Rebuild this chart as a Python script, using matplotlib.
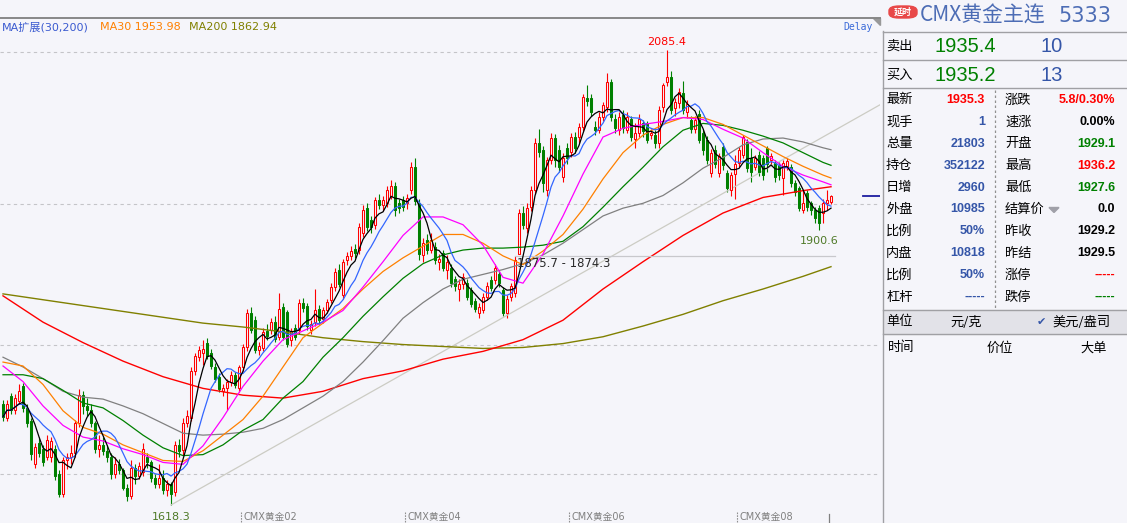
import matplotlib
matplotlib.use("Agg")
import matplotlib.pyplot as plt
from matplotlib.lines import Line2D
from matplotlib.patches import Rectangle, FancyBboxPatch, Polygon
import numpy as np
import pandas as pd

W, H = 1127, 523
BG = "#f5f5fa"
CJK = ["Noto Sans CJK SC", "DejaVu Sans"]
LATIN = ["DejaVu Sans", "Noto Sans CJK SC"]

# daily candles, CMX gold main contract
opens = [1722, 1708, 1730, 1716, 1725, 1740, 1718, 1705, 1660, 1682,
         1676, 1668, 1668, 1676, 1650, 1630, 1664, 1668, 1672, 1702,
         1731, 1720, 1716, 1702, 1676, 1680, 1674, 1668, 1650, 1660,
         1654, 1636, 1628, 1656, 1648, 1652, 1668, 1662, 1646, 1640,
         1646, 1634, 1640, 1632, 1680, 1675, 1702, 1708, 1756, 1770,
         1774, 1785, 1774, 1760, 1750, 1735, 1738, 1745, 1752, 1738,
         1760, 1780, 1815, 1808, 1777, 1779, 1797, 1798, 1806, 1791,
         1822, 1816, 1788, 1800, 1798, 1826, 1823, 1798, 1806, 1820,
         1809, 1818, 1829, 1842, 1860, 1834, 1870, 1874, 1881, 1880,
         1897, 1923, 1911, 1906, 1931, 1926, 1928, 1936, 1946, 1928,
         1931, 1928, 1942, 1965, 1928, 1875, 1890, 1880, 1883, 1868,
         1877, 1860, 1862, 1850, 1840, 1845, 1846, 1839, 1828, 1815,
         1818, 1832, 1849, 1849, 1855, 1839, 1815, 1832, 1836, 1876,
         1918, 1903, 1924, 1942, 1990, 1983, 1942, 1972, 1995, 1983,
         1955, 1985, 1981, 1996, 1996, 2006, 2036, 2036, 2006, 2003,
         2017, 2027, 2053, 2015, 2003, 2019, 2003, 2015, 1994, 2000,
         2010, 2010, 1998, 1998, 1990, 2027, 2053, 2058, 2026, 2031,
         2041, 2022, 2014, 2004, 2020, 2000, 1993, 1959, 1983, 1959,
         1986, 1959, 1942, 1958, 1969, 1978, 1991, 1975, 1965, 1978,
         1975, 1985, 1972, 1969, 1967, 1954, 1965, 1965, 1949, 1944,
         1921, 1939, 1928, 1921, 1923, 1918, 1928, 1929.1]
highs = [1726, 1726, 1733, 1732, 1742, 1744, 1722, 1708, 1682, 1688,
         1680, 1690, 1688, 1680, 1654, 1668, 1672, 1680, 1706, 1737,
         1735, 1728, 1722, 1704, 1690, 1688, 1680, 1672, 1668, 1665,
         1656, 1640, 1664, 1660, 1662, 1682, 1672, 1664, 1650, 1660,
         1654, 1644, 1642, 1684, 1686, 1708, 1716, 1760, 1774, 1782,
         1788, 1790, 1778, 1764, 1754, 1742, 1748, 1756, 1755, 1762,
         1784, 1820, 1822, 1812, 1786, 1800, 1804, 1810, 1812, 1836,
         1826, 1818, 1800, 1804, 1830, 1831, 1826, 1808, 1840, 1824,
         1822, 1830, 1846, 1862, 1866, 1871, 1878, 1884, 1886, 1908,
         1926, 1928, 1915, 1934, 1938, 1936, 1946, 1952, 1950, 1932,
         1936, 1938, 1970, 1975, 1932, 1892, 1896, 1898, 1888, 1876,
         1880, 1875, 1866, 1853, 1850, 1856, 1850, 1842, 1831, 1826,
         1836, 1847, 1853, 1866, 1858, 1842, 1834, 1846, 1874.3, 1922,
         1925, 1928, 1946, 1995, 2004, 1987, 1976, 2000, 1999, 1988,
         1980, 1990, 2000, 2001, 2010, 2040, 2049, 2040, 2012, 2022,
         2032, 2062, 2056, 2020, 2022, 2024, 2022, 2018, 2010, 2020,
         2014, 2012, 2004, 2003, 2028, 2052, 2085.4, 2064, 2036, 2046,
         2054, 2034, 2018, 2018, 2024, 2004, 1997, 1984, 1988, 1980,
         1990, 1962, 1960, 1978, 1986, 1998, 1994, 1985, 1978, 1982,
         1978, 1987, 1980, 1972, 1970, 1972, 1975, 1968, 1952, 1946,
         1942, 1942, 1930, 1924, 1926, 1932, 1942, 1936.2]
lows = [1705, 1704, 1712, 1712, 1722, 1714, 1698, 1664, 1656, 1668,
        1658, 1664, 1662, 1644, 1626, 1626, 1655, 1660, 1668, 1698,
        1712, 1710, 1698, 1672, 1668, 1670, 1662, 1645, 1646, 1650,
        1634, 1622, 1624, 1640, 1645, 1648, 1656, 1642, 1636, 1636,
        1630, 1628, 1618.3, 1628, 1668, 1670, 1698, 1704, 1752, 1766,
        1762, 1768, 1758, 1745, 1734, 1730, 1716, 1740, 1738, 1734,
        1756, 1776, 1795, 1774, 1772, 1776, 1788, 1794, 1786, 1788,
        1788, 1780, 1782, 1788, 1794, 1816, 1798, 1794, 1802, 1804,
        1805, 1815, 1826, 1838, 1842, 1830, 1865, 1870, 1872, 1876,
        1893, 1900, 1898, 1902, 1922, 1920, 1924, 1932, 1915, 1918,
        1920, 1922, 1938, 1926, 1870, 1868, 1876, 1877, 1866, 1860,
        1858, 1850, 1842, 1838, 1828, 1840, 1829, 1822, 1816, 1810,
        1815, 1829, 1838, 1845, 1842, 1812, 1810, 1828, 1832, 1875.7,
        1902, 1898, 1920, 1938, 1976, 1940, 1936, 1968, 1965, 1960,
        1950, 1968, 1976, 1980, 1990, 2002, 2028, 2018, 1998, 2000,
        2012, 2022, 2012, 2000, 1998, 2000, 2000, 1992, 1985, 1996,
        1996, 1990, 1994, 1985, 1985, 2022, 2048, 2020, 2018, 2026,
        2020, 2016, 2000, 2000, 1990, 1978, 1968, 1955, 1964, 1955,
        1962, 1940, 1935, 1932, 1965, 1975, 1960, 1950, 1962, 1956,
        1952, 1960, 1968, 1950, 1952, 1937, 1962, 1945, 1936, 1920,
        1918, 1920, 1916, 1908, 1900.6, 1908, 1921, 1927.6]
closes = [1709, 1722, 1716, 1728, 1735, 1718, 1702, 1671, 1678, 1672,
          1662, 1685, 1684, 1648, 1630, 1664, 1668, 1672, 1702, 1731,
          1720, 1716, 1702, 1676, 1680, 1674, 1668, 1650, 1660, 1654,
          1636, 1628, 1656, 1648, 1658, 1676, 1662, 1646, 1640, 1646,
          1634, 1640, 1630, 1680, 1674, 1702, 1710, 1756, 1771, 1777,
          1778, 1771, 1761, 1748, 1737, 1738, 1745, 1752, 1741, 1760,
          1780, 1815, 1798, 1777, 1781, 1796, 1792, 1806, 1789, 1820,
          1791, 1784, 1797, 1791, 1826, 1821, 1802, 1804, 1818, 1808,
          1818, 1827, 1842, 1857, 1845, 1868, 1874, 1879, 1877, 1904,
          1921, 1904, 1904, 1931, 1926, 1931, 1942, 1946, 1921, 1923,
          1924, 1933, 1965, 1930, 1876, 1887, 1880, 1890, 1870, 1871,
          1862, 1868, 1846, 1843, 1845, 1852, 1832, 1825, 1820, 1822,
          1832, 1843, 1841, 1862, 1846, 1815, 1830, 1843, 1870, 1918,
          1906, 1923, 1942, 1990, 1981, 1949, 1972, 1995, 1972, 1965,
          1975, 1975, 1996, 1985, 2006, 2037, 2033, 2022, 2003, 2017,
          2029, 2053, 2017, 2005, 2017, 2005, 2017, 1996, 2000, 2015,
          2002, 1993, 2000, 1990, 2024, 2049, 2058, 2024, 2032, 2042,
          2024, 2030, 2004, 2014, 1993, 1983, 1972, 1980, 1968, 1977,
          1967, 1944, 1957, 1968, 1983, 1996, 1964, 1960, 1975, 1960,
          1957, 1968, 1977, 1955, 1957, 1969, 1971, 1949, 1940, 1923,
          1928, 1924, 1921, 1913, 1908, 1928, 1931, 1935.3]

# moving averages (every 5 sessions for the faster ones)
ma_idx_fast = [0, 5, 10, 15, 20, 25, 30, 35, 40, 45, 50, 55, 60, 65, 70,
               75, 80, 85, 90, 95, 100, 105, 110, 115, 120, 125, 130, 135,
               140, 145, 150, 155, 160, 165, 170, 175, 180, 185, 190, 195,
               200, 205, 207]
ma20 = [1761, 1745, 1720, 1700, 1688, 1684, 1676, 1670, 1662, 1660, 1679,
        1708, 1740, 1766, 1788, 1797, 1806, 1818, 1842, 1868, 1895, 1914,
        1914, 1906, 1885, 1852, 1846, 1876, 1915, 1958, 1996, 2005, 2009,
        2012, 2016, 2014, 2004, 1995, 1980, 1966, 1957, 1950, 1947]
ma30 = [1765, 1761, 1742, 1715, 1698, 1691, 1680, 1672, 1664, 1663, 1674,
        1690, 1706, 1730, 1760, 1790, 1805, 1820, 1840, 1858, 1872, 1884,
        1896, 1896, 1887, 1874, 1865, 1879, 1896, 1922, 1953, 1980, 1998,
        2009, 2016, 2016, 2009, 1998, 1987, 1976, 1966, 1957, 1953.98]
ma40 = [1752, 1752, 1748, 1736, 1723, 1718, 1705, 1690, 1677, 1669, 1670,
        1680, 1695, 1706, 1728, 1745, 1770, 1790, 1812, 1832, 1851, 1866,
        1875, 1880, 1882, 1882, 1883, 1885, 1889, 1904, 1924, 1945, 1965,
        1986, 2003, 2010, 2008, 2003, 1997, 1990, 1980, 1970, 1967]
ma60 = [1770, 1760, 1748, 1735, 1729, 1727, 1720, 1712, 1702, 1692, 1690,
        1691, 1693, 1697, 1706, 1718, 1730, 1745, 1765, 1787, 1810, 1826,
        1840, 1850, 1855, 1860, 1866, 1875, 1887, 1901, 1915, 1923, 1928,
        1936, 1949, 1964, 1975, 1988, 1994, 1995, 1991, 1985, 1983]

ma_idx_slow = [0, 10, 20, 30, 40, 50, 60, 70, 80, 90, 100,
               110, 120, 130, 140, 150, 160, 170, 180, 190, 200, 207]
ma120 = [1833, 1806, 1785, 1766, 1750, 1738, 1731, 1728, 1735, 1748, 1756,
         1768, 1776, 1788, 1808, 1840, 1868, 1895, 1918, 1934, 1941, 1945]
ma200 = [1835, 1829, 1823, 1817, 1811, 1805, 1801, 1796, 1790, 1786, 1783,
         1781, 1779, 1780, 1784, 1791, 1802, 1814, 1828, 1840, 1853, 1862.94]

month_labels = ["CMX黄金02", "CMX黄金04", "CMX黄金06", "CMX黄金08"]
month_idx = [60, 101, 142, 184]
grid_prices = [2083.3, 1927.3, 1782.6, 1650.1]

trend_idx = [42, 126]
trend_price = [1618.3, 1813.0]
gap_idx = 128
gap_hi, gap_lo = 1875.7, 1874.3
last_price = 1935.3

# quote panel
sell = ("1935.4", "10")
buy = ("1935.2", "13")
left_names = ["最新", "现手", "总量", "持仓", "日增", "外盘", "比例", "内盘", "比例", "杠杆"]
left_vals = ["1935.3", "1", "21803", "352122", "2960", "10985", "50%", "10818", "50%", "-----"]
left_cols = ["#ff0000"] + ["#3556a8"] * 9
right_names = ["涨跌", "速涨", "开盘", "最高", "最低", "结算价", "昨收", "昨结", "涨停", "跌停"]
right_vals = ["5.8/0.30%", "0.00%", "1929.1", "1936.2", "1927.6", "0.0", "1929.2", "1929.5", "-----", "-----"]
right_cols = ["#ff0000", "#000000", "#008000", "#ff0000", "#008000",
              "#000000", "#000000", "#000000", "#ff0000", "#008000"]

fig = plt.figure(figsize=(W / 100, H / 100), dpi=100, facecolor=BG)


def ftext(x, y, s, **kw):
    kw.setdefault("va", "center")
    fig.text(x / W, 1 - y / H, s, **kw)


def fline(x0, y0, x1, y1, **kw):
    fig.add_artist(Line2D([x0 / W, x1 / W], [1 - y0 / H, 1 - y1 / H], **kw))


ax = fig.add_axes([0, 0, 880 / W, 504 / H])
ax.set_xlim(-0.75, 219.25)
ax.set_ylim(1599.8, 2117.2)
ax.axis("off")

o = np.array(opens, dtype=float)
h = np.array(highs, dtype=float)
l = np.array(lows, dtype=float)
c = np.array(closes, dtype=float)
x = np.arange(len(c))
up = c >= o
edge = np.where(up, "#ff0000", "#008000")
face = np.where(up, BG, "#008000")
body_lo = np.minimum(o, c)
body_h = np.maximum(np.abs(c - o), 0.8)

for gp in grid_prices:
    ax.axhline(gp, color="#c4c4c8", lw=0.8, ls=(0, (3, 3)), zorder=1)

ax.vlines(x, l, h, colors=edge, lw=0.8, zorder=2)
ax.bar(x, body_h, bottom=body_lo, width=0.66, color=face, edgecolor=edge,
       linewidth=0.75, zorder=3)

# trend line through two lows, extended to the right edge
slope = (trend_price[1] - trend_price[0]) / (trend_idx[1] - trend_idx[0])
tx = np.array([trend_idx[0], 219.25])
ax.plot(tx, trend_price[0] + slope * (tx - trend_idx[0]), color="#ccccc4", lw=0.9, zorder=2)

# moving averages
ma5 = pd.Series(c).rolling(5, min_periods=1).mean()
ma10 = pd.Series(c).rolling(10, min_periods=1).mean()
ax.plot(ma_idx_slow, ma200, color="#808000", lw=1.0, zorder=4)
ax.plot(ma_idx_slow, ma120, color="#ff0000", lw=1.0, zorder=4)
ax.plot(ma_idx_fast, ma60, color="#808080", lw=0.9, zorder=4)
ax.plot(ma_idx_fast, ma40, color="#008000", lw=0.9, zorder=4)
ax.plot(ma_idx_fast, ma30, color="#ff8000", lw=0.9, zorder=4)
ax.plot(ma_idx_fast, ma20, color="#ff00ff", lw=0.9, zorder=4)
ax.plot(x, ma10, color="#3366ff", lw=0.9, zorder=5)
ax.plot(x, ma5, color="#000000", lw=0.9, zorder=5)

# gap marker
ax.plot([gap_idx, len(c)], [gap_lo, gap_lo], color="#c8c8cc", lw=0.9, zorder=4)
ax.annotate(f"{gap_hi} - {gap_lo}", (gap_idx + 0.5, gap_lo), xytext=(0, -8),
            textcoords="offset pixels", ha="left", va="center", fontsize=8.4,
            color="#2a2a2a", zorder=6)

# extreme labels
imax = int(np.argmax(h))
imin = int(np.argmin(l))
ax.annotate(f"{h[imax]:.1f}", (imax, h[imax]), xytext=(0, 8), textcoords="offset pixels",
            ha="center", va="center", fontsize=8, color="#ff0000")
ax.annotate(f"{l[imin]:.1f}", (imin, l[imin]), xytext=(0, -12), textcoords="offset pixels",
            ha="center", va="center", fontsize=8, color="#4f7a28")
ilow2 = 150 + int(np.argmin(l[150:]))
ax.annotate(f"{l[ilow2]:.1f}", (ilow2, l[ilow2]), xytext=(0, -11), textcoords="offset pixels",
            ha="center", va="center", fontsize=8, color="#4f7a28")

ax.plot([215, 219.25], [last_price, last_price], color="#1c1ca0", lw=1.3, zorder=6)

# month ticks at the bottom
for lab, mi in zip(month_labels, month_idx):
    xp = 3 + 4 * (mi - 0.5)
    fline(xp, 512, xp, 522, color="#909090", lw=0.8, ls=(0, (1.5, 1)))
    ftext(xp + 2, 517, lab, fontsize=7, color="#808080", family=LATIN, ha="left")
xp = 3 + 4 * (len(c) - 1.5)
fline(xp, 514, xp, 523, color="#808080", lw=0.9)

# header of chart
fline(0, 18, 880, 18, color="#888888", lw=1.4)
fig.add_artist(Polygon([(873 / W, 1 - 18 / H), (880 / W, 1 - 18 / H), (880 / W, 1 - 25 / H)],
                       closed=True, color="#999999", transform=fig.transFigure))
ftext(2, 27, "MA扩展(30,200)", fontsize=8, color="#3a5ad0", family=LATIN, ha="left")
ftext(100, 27, f"MA30 {ma30[-1]:.2f}", fontsize=8, color="#ff8000", family=LATIN, ha="left")
ftext(189, 27, f"MA200 {ma200[-1]:.2f}", fontsize=8, color="#808000", family=LATIN, ha="left")
ftext(843, 27, "Delay", fontsize=7, color="#3a6ad8", family="DejaVu Sans Mono", ha="left")

# quote panel
grey = "#a0a0a4"
fline(883, 31, 883, 523, color=grey, lw=1)
for yy in (32, 60, 88):
    fline(883, yy, 1127, yy, color=grey, lw=1)
fig.add_artist(FancyBboxPatch((889 / W, 1 - 18 / H), 28 / W, 12 / H,
                              boxstyle="round,pad=0,rounding_size=0.009",
                              color="#e84848", transform=fig.transFigure))
ftext(903, 12, "延时", fontsize=6.5, color="white", family=CJK, ha="center", weight="bold")
ftext(920, 16, "CMX黄金主连", fontsize=15, color="#4d6db5", family=CJK, ha="left")
ftext(1058, 16, "5333", fontsize=15, color="#4d6db5", family=LATIN, ha="left")

ftext(886, 46, "卖出", fontsize=9.5, color="#000000", family=CJK, ha="left")
ftext(935, 46, sell[0], fontsize=14.5, color="#008000", family="Liberation Sans", ha="left")
ftext(1040, 46, sell[1], fontsize=14.5, color="#3556a8", family="Liberation Sans", ha="left")
ftext(886, 75, "买入", fontsize=9.5, color="#000000", family=CJK, ha="left")
ftext(935, 75, buy[0], fontsize=14.5, color="#008000", family="Liberation Sans", ha="left")
ftext(1040, 75, buy[1], fontsize=14.5, color="#3556a8", family="Liberation Sans", ha="left")

for k in range(len(left_names)):
    yy = 100 + 21.9 * k
    ftext(886, yy, left_names[k], fontsize=9.5, color="#000000", family=CJK, ha="left")
    ftext(985, yy, left_vals[k], fontsize=9, color=left_cols[k], family="Liberation Sans",
          ha="right", weight="bold")
    ftext(1005, yy, right_names[k], fontsize=9.5, color="#000000", family=CJK, ha="left")
    ftext(1115, yy, right_vals[k], fontsize=9, color=right_cols[k], family="Liberation Sans",
          ha="right", weight="bold")
yy = 100 + 21.9 * 5
fig.add_artist(Polygon([(1049 / W, 1 - (yy - 2) / H), (1059 / W, 1 - (yy - 2) / H), (1054 / W, 1 - (yy + 3) / H)],
                       closed=True, color="#a0a0a8", transform=fig.transFigure))
fline(995, 90, 995, 308, color="#909090", lw=0.9, ls=(0, (2, 2)))

fig.add_artist(Rectangle((883 / W, 1 - 334 / H), 244 / W, 24 / H, color="#e2e2e8",
                         transform=fig.transFigure))
fline(883, 310, 1127, 310, color=grey, lw=1)
fline(883, 334, 1127, 334, color=grey, lw=1)
ftext(886, 322, "单位", fontsize=9.5, color="#000000", family=CJK, ha="left")
ftext(950, 322, "元/克", fontsize=9.5, color="#000000", family=CJK, ha="left")
ftext(1037, 322, "✔", fontsize=8, color="#3556a8", family="DejaVu Sans", ha="left")
ftext(1052, 322, "美元/盎司", fontsize=9.5, color="#000000", family=CJK, ha="left")
ftext(888, 348, "时间", fontsize=9.5, color="#000000", family=CJK, ha="left")
ftext(987, 348, "价位", fontsize=9.5, color="#000000", family=CJK, ha="left")
ftext(1080, 348, "大单", fontsize=9.5, color="#000000", family=CJK, ha="left")

fig.savefig("out.png", dpi=100, facecolor=BG)
